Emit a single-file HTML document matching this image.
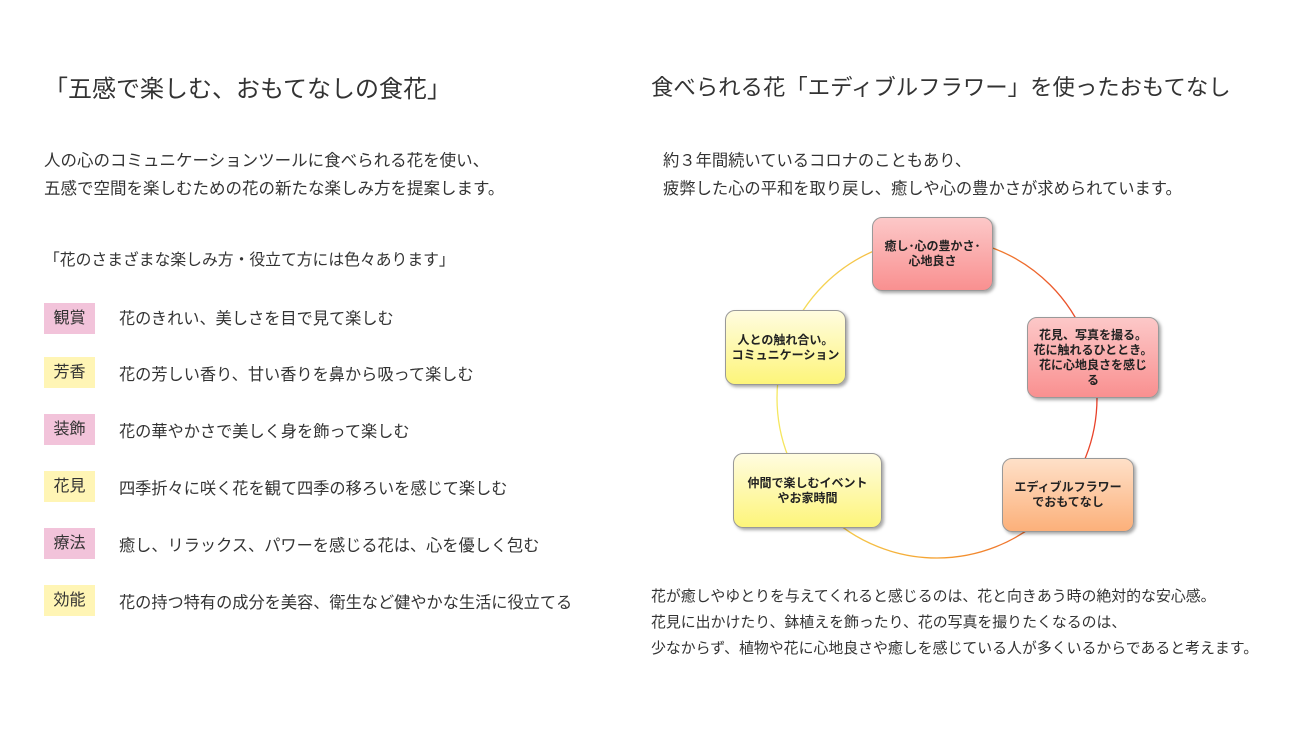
<!DOCTYPE html>
<html><head><meta charset="utf-8"><style>
body{margin:0;width:1300px;height:731px;background:#fff;position:relative;overflow:hidden;font-family:"Liberation Sans","Noto Sans CJK JP",sans-serif;color:#333}
.t{position:absolute;white-space:nowrap}
.lab{position:absolute;left:44px;width:51px;height:31px;line-height:31px;text-align:center;font-size:16px}
.p{background:#f2c3da}.y{background:#fff5b5}
.n{position:absolute;border:1px solid #999;border-radius:10px;box-shadow:2px 2px 3px rgba(0,0,0,.35);display:flex;align-items:center;justify-content:center;text-align:center;font-size:12px;font-weight:bold;color:#222;line-height:15px}
.r{background:linear-gradient(#fcc8c8,#f99090)}
.o{background:linear-gradient(#fee0c8,#fcb07a)}
.yy{background:linear-gradient(#fffce0,#fdf57a)}
</style></head><body>
<div class="t" style="left:44px;top:69px;font-size:24px">「五感で楽しむ、おもてなしの食花」</div>
<div class="t" style="left:651px;top:70px;font-size:22.4px">食べられる花「エディブルフラワー」を使ったおもてなし</div>
<div class="t" style="left:44px;top:147px;font-size:16.5px;line-height:28px">人の心のコミュニケーションツールに食べられる花を使い、<br>五感で空間を楽しむための花の新たな楽しみ方を提案します。</div>
<div class="t" style="left:44px;top:247px;font-size:15.8px">「花のさまざまな楽しみ方・役立て方には色々あります」</div>
<div class="lab p" style="top:303px">観賞</div><div class="t" style="left:119px;top:305px;font-size:16.2px">花のきれい、美しさを目で見て楽しむ</div>
<div class="lab y" style="top:357px">芳香</div><div class="t" style="left:119px;top:361px;font-size:16.2px">花の芳しい香り、甘い香りを鼻から吸って楽しむ</div>
<div class="lab p" style="top:414px">装飾</div><div class="t" style="left:119px;top:418px;font-size:16.2px">花の華やかさで美しく身を飾って楽しむ</div>
<div class="lab y" style="top:471px">花見</div><div class="t" style="left:119px;top:475px;font-size:16.2px">四季折々に咲く花を観て四季の移ろいを感じて楽しむ</div>
<div class="lab p" style="top:528px">療法</div><div class="t" style="left:119px;top:532px;font-size:16.2px">癒し、リラックス、パワーを感じる花は、心を優しく包む</div>
<div class="lab y" style="top:585px">効能</div><div class="t" style="left:119px;top:589px;font-size:16.2px">花の持つ特有の成分を美容、衛生など健やかな生活に役立てる</div>
<div class="t" style="left:663px;top:147px;font-size:16.3px;line-height:28px">約３年間続いているコロナのこともあり、<br>疲弊した心の平和を取り戻し、癒しや心の豊かさが求められています。</div>
<svg style="position:absolute;left:0;top:0" width="1300" height="731">
<defs><linearGradient id="g" x1="1" y1="0" x2="0" y2="0"><stop offset="0" stop-color="#e8402a"/><stop offset=".5" stop-color="#f5a030"/><stop offset="1" stop-color="#f5e860"/></linearGradient></defs>
<circle cx="937" cy="398" r="160" fill="none" stroke="url(#g)" stroke-width="1.3"/>
</svg>
<div class="n r" style="left:872px;top:217px;width:119px;height:72px">癒し･心の豊かさ･<br>心地良さ</div>
<div class="n r" style="left:1027px;top:317px;width:130px;height:79px">花見、写真を撮る。<br>花に触れるひととき。<br>花に心地良さを感じ<br>る</div>
<div class="n o" style="left:1002px;top:458px;width:130px;height:72px">エディブルフラワー<br>でおもてなし</div>
<div class="n yy" style="left:733px;top:453px;width:147px;height:73px">仲間で楽しむイベント<br>やお家時間</div>
<div class="n yy" style="left:725px;top:310px;width:119px;height:73px">人との触れ合い。<br>コミュニケーション</div>
<div class="t" style="left:651px;top:584px;font-size:14.9px;line-height:26px">花が癒しやゆとりを与えてくれると感じるのは、花と向きあう時の絶対的な安心感。<br>花見に出かけたり、鉢植えを飾ったり、花の写真を撮りたくなるのは、<br>少なからず、植物や花に心地良さや癒しを感じている人が多くいるからであると考えます。</div>
</body></html>
